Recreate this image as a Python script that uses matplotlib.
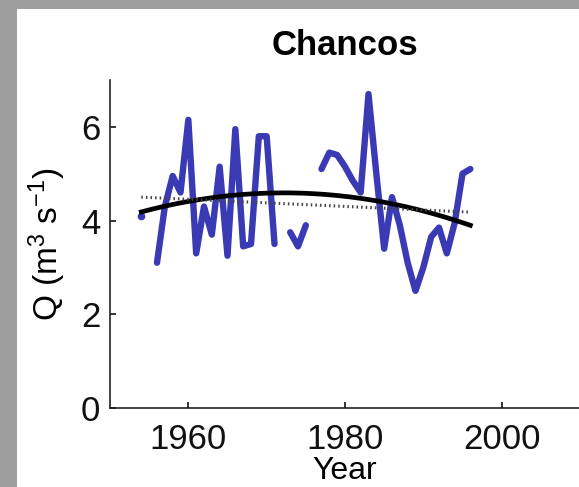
import numpy as np
import matplotlib
matplotlib.use("Agg")
import matplotlib.pyplot as plt
from matplotlib.patches import Rectangle

plt.rcParams['font.family'] = ['Liberation Sans', 'DejaVu Sans']
plt.rcParams['mathtext.default'] = 'regular'

# ---- data ----
years = list(range(1954, 1997))
q = [4.1, np.nan, 3.1, 4.3, 4.95, 4.6, 6.15, 3.3, 4.3, 3.7,
     5.15, 3.25, 5.95, 3.45, 3.5, 5.8, 5.8, 3.5, np.nan, 3.75,
     3.45, 3.9, np.nan, 5.1, 5.45, 5.4, 5.15, 4.85, 4.6, 6.7,
     5.0, 3.4, 4.5, 3.9, 3.1, 2.5, 3.0, 3.65, 3.85, 3.3,
     3.95, 5.0, 5.1]

# quadratic trend (solid black) read at a few years
trend_years = [1954, 1964, 1974, 1985, 1996]
trend_q = [4.18, 4.52, 4.58, 4.39, 3.9]

# linear trend (dotted) end points
lin_years = [1954, 1996]
lin_q = [4.5, 4.18]

title = "Chancos"
xticks = [1960, 1980, 2000]
yticks = [0, 2, 4, 6]

# ---- figure ----
fig = plt.figure(figsize=(5.79, 4.87), dpi=100, facecolor='#9e9e9e')
fig.patches.append(Rectangle((17/579, 0), 1, (487-9)/487, transform=fig.transFigure,
                             facecolor='white', edgecolor='none', zorder=-10))

ax = fig.add_axes([110/579, 1-408/487, 470/579, (408-80)/487])
ax.set_zorder(5)
ax.set_facecolor('none')

blue = '#3a3ab4'
y = np.array(q, dtype=float)
x = np.array(years, dtype=float)
ax.plot(x, y, color=blue, lw=4.6, solid_capstyle='round', solid_joinstyle='round', zorder=2)
# isolated points
iso = [i for i in range(len(y)) if not np.isnan(y[i])
       and (i == 0 or np.isnan(y[i-1])) and (i == len(y)-1 or np.isnan(y[i+1]))]
ax.plot(x[iso], y[iso], 'o', color=blue, ms=4.5, zorder=2)

coef = np.polyfit(trend_years, trend_q, 2)
tt = np.linspace(trend_years[0], trend_years[-1], 200)
ax.plot(tt, np.polyval(coef, tt), color='black', lw=3.4, zorder=3)
ax.plot(lin_years, lin_q, color='#444444', lw=2.2, linestyle=(0, (0.5, 1.0)), zorder=3)

ax.set_xlim(1950, 2010)
ax.set_ylim(0, 7)
ax.set_xticks(xticks)
ax.set_yticks(yticks)
for s in ['top', 'right']:
    ax.spines[s].set_visible(False)
for s in ['left', 'bottom']:
    ax.spines[s].set_linewidth(1.2)
    ax.spines[s].set_color('#222222')
ax.tick_params(direction='in', length=4, width=1.2, labelsize=25, colors='#111111')
ax.tick_params(axis='x', pad=11)
ax.tick_params(axis='y', pad=7)

ax.set_title(title, fontsize=25, fontweight='bold', pad=18)
ax.set_xlabel('Year', fontsize=23, labelpad=0)
ax.set_ylabel(r'Q (m$^3$ s$^{-1}$)', fontsize=24, labelpad=9)

fig.savefig('out.png', dpi=100, facecolor=fig.get_facecolor())
